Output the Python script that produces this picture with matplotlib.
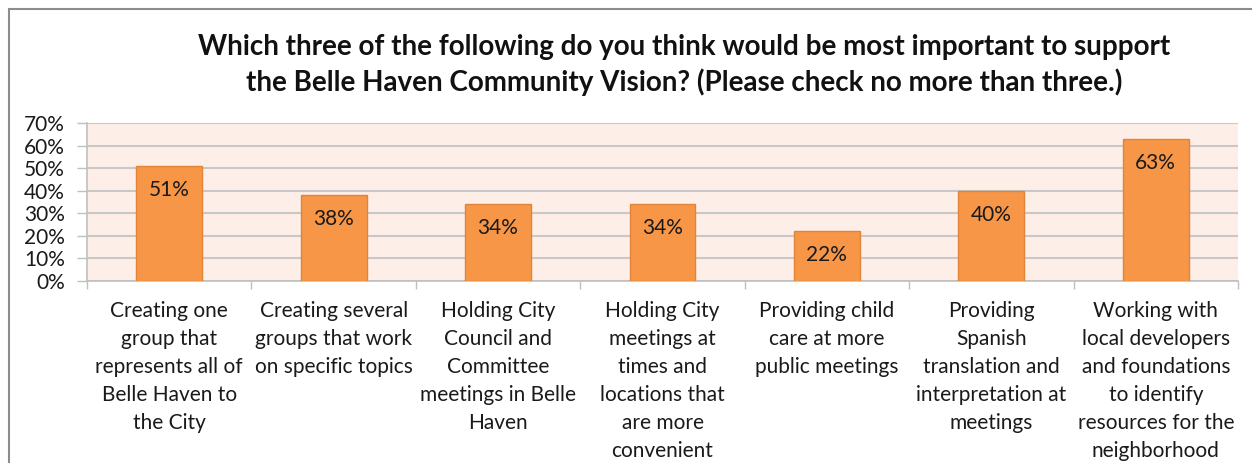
import numpy as np
import matplotlib.pyplot as plt
from matplotlib.patches import Rectangle

# Survey responses
categories = [
    "Creating one\ngroup that\nrepresents all of\nBelle Haven to\nthe City",
    "Creating several\ngroups that work\non specific topics",
    "Holding City\nCouncil and\nCommittee\nmeetings in Belle\nHaven",
    "Holding City\nmeetings at\ntimes and\nlocations that\nare more\nconvenient",
    "Providing child\ncare at more\npublic meetings",
    "Providing\nSpanish\ntranslation and\ninterpretation at\nmeetings",
    "Working with\nlocal developers\nand foundations\nto identify\nresources for the\nneighborhood",
]
values = [0.51, 0.38, 0.34, 0.34, 0.22, 0.40, 0.63]
yticks = [0, 0.1, 0.2, 0.3, 0.4, 0.5, 0.6, 0.7]

plt.rcParams['font.family'] = ['Lato', 'DejaVu Sans']

fig = plt.figure(figsize=(12.52, 4.63), dpi=100)
ax = fig.add_axes([87 / 1252, 1 - 281 / 463, (1238 - 87) / 1252, (281 - 123) / 463])

# chart border (top and left edges only are visible)
fig.patches.append(Rectangle((9 / 1252, -0.1), 1.2, 1 - 9 / 463 + 0.1,
                             transform=fig.transFigure, fill=False,
                             edgecolor='#8c8c8c', linewidth=1.5))

x = np.arange(len(values))
ax.set_facecolor('#fdeee8')
ax.bar(x, values, width=0.4, color='#f79646', edgecolor='#e0843c', linewidth=1, zorder=3)

for xi, v in zip(x, values):
    ax.annotate(f"{v:.0%}", (xi, v), xytext=(0, -24), textcoords='offset pixels',
                ha='center', va='center', fontsize=15, color='#1a1a1a', zorder=4)

ax.set_xlim(-0.5, len(values) - 0.5)
ax.set_ylim(0, 0.7)
ax.set_yticks(yticks)
ax.set_yticklabels([f"{t:.0%}" for t in yticks], fontsize=15, color='#1a1a1a')
ax.grid(axis='y', color='#c8c8c8', linewidth=1.5, zorder=0)
ax.set_axisbelow(True)

# category boundary ticks under the axis
ax.set_xticks(np.arange(-0.5, len(values)))
ax.set_xticklabels([])
ax.tick_params(axis='x', length=6, color='#c0c0c0', width=1)
ax.tick_params(axis='y', length=7, color='#c0c0c0', width=1, pad=9)
for s in ['top', 'right']:
    ax.spines[s].set_visible(False)
ax.spines['left'].set_color('#c0c0c0')
ax.spines['bottom'].set_color('#c0c0c0')
ax.spines['left'].set_linewidth(1.2)
ax.spines['bottom'].set_linewidth(1.2)

for xi, lab in zip(x, categories):
    ax.annotate(lab, (xi, 0), xytext=(0, -20), textcoords='offset pixels',
                ha='center', va='top', fontsize=15, linespacing=1.5,
                color='#1a1a1a', annotation_clip=False)

fig.text(684 / 1252, 1 - 65 / 463,
         "Which three of the following do you think would be most important to support\n"
         "the Belle Haven Community Vision? (Please check no more than three.)",
         ha='center', va='center', fontsize=20, fontweight='bold', linespacing=1.4,
         color='#111111')

fig.savefig('out.png', dpi=100)
